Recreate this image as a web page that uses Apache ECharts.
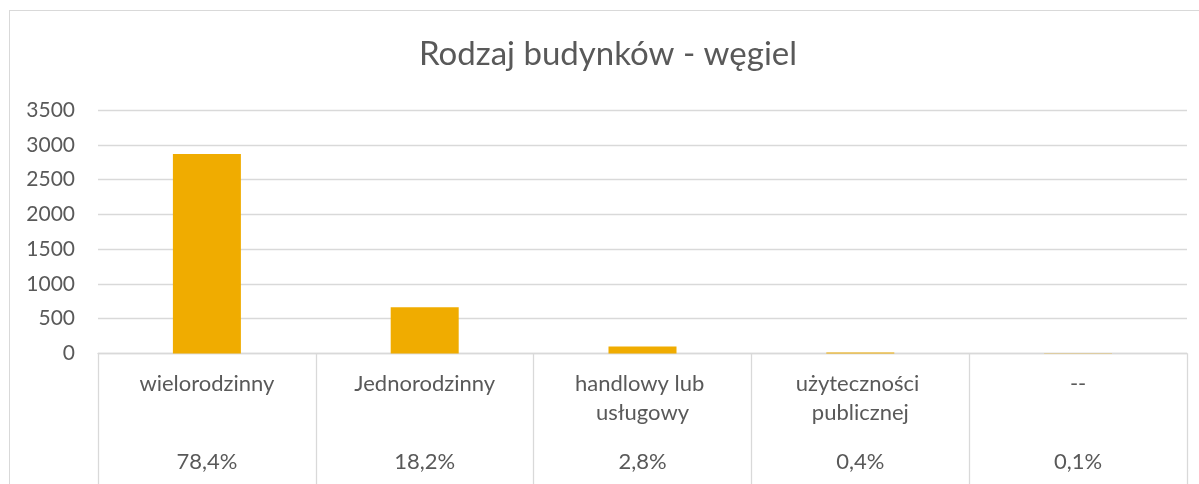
<!DOCTYPE html>
<html>
<head>
<meta charset="utf-8">
<script src="https://cdn.jsdelivr.net/npm/echarts@6/dist/echarts.min.js"></script>
<style>
  html, body { margin: 0; padding: 0; background: #ffffff; }
  #frame { position: absolute; left: 9px; top: 10px; width: 1400px; height: 700px; border: 1px solid #d9d9d9; box-sizing: border-box; }
  #chart { position: absolute; left: 0; top: 0; width: 1199px; height: 484px; }
</style>
</head>
<body>
<div id="frame"></div>
<div id="chart"></div>
<script>
const titleText = 'Rodzaj budynków - węgiel';
const categories = ['wielorodzinny', 'Jednorodzinny', 'handlowy lub usługowy', 'użyteczności publicznej', '--'];
const values = [2866, 665, 102, 15, 4];
const percentLabels = ['78,4%', '18,2%', '2,8%', '0,4%', '0,1%'];
const yMin = 0, yMax = 3500, yStep = 500;

const FONT = 'Lato';
const TXT = '#595959';
const LINE = '#d9d9d9';

const chart = echarts.init(document.getElementById('chart'), null, { renderer: 'canvas' });
chart.setOption({
  backgroundColor: 'transparent',
  animation: false,
  title: {
    text: titleText,
    left: 608,
    top: 38,
    padding: 0,
    textAlign: 'center',
    textStyle: { fontFamily: FONT, fontSize: 33, fontWeight: 'normal', color: TXT }
  },
  grid: { left: 98, right: 12, top: 110, bottom: 130.5, containLabel: false },
  xAxis: [
    {
      type: 'category',
      data: categories,
      position: 'bottom',
      boundaryGap: true,
      axisLine: { show: true, lineStyle: { color: LINE, width: 1.3 } },
      axisTick: { show: true, interval: 0, length: 140, lineStyle: { color: LINE, width: 1.3 } },
      axisLabel: {
        interval: 0,
        margin: 16,
        color: TXT,
        fontFamily: FONT,
        fontSize: 22,
        lineHeight: 29,
        width: 175,
        overflow: 'break',
        verticalAlign: 'top'
      },
      splitLine: { show: false }
    },
    {
      type: 'category',
      data: percentLabels,
      position: 'bottom',
      gridIndex: 0,
      boundaryGap: true,
      axisLine: { show: false },
      axisTick: { show: false },
      axisLabel: {
        interval: 0,
        margin: 98,
        color: TXT,
        fontFamily: FONT,
        fontSize: 22,
        lineHeight: 20,
        verticalAlign: 'top'
      },
      splitLine: { show: false }
    }
  ],
  yAxis: {
    type: 'value',
    min: yMin,
    max: yMax,
    interval: yStep,
    axisLine: { show: false },
    axisTick: { show: false },
    axisLabel: { margin: 23, color: TXT, fontFamily: FONT, fontSize: 21, formatter: (v) => String(v) },
    splitLine: { show: true, lineStyle: { color: LINE, width: 1.3 } }
  },
  series: [
    {
      type: 'bar',
      xAxisIndex: 0,
      data: values,
      barWidth: 68,
      itemStyle: { color: '#F0AC00' },
      silent: true
    }
  ]
});
</script>
</body>
</html>
